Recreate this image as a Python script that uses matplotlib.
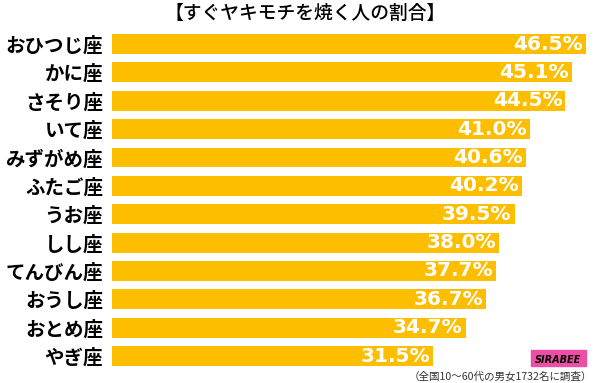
import matplotlib
matplotlib.use("Agg")
import matplotlib.pyplot as plt
from matplotlib.patches import Rectangle

plt.rcParams['font.family'] = ['Noto Sans CJK JP', 'DejaVu Sans']

# data
signs = ["おひつじ座", "かに座", "さそり座", "いて座", "みずがめ座", "ふたご座",
         "うお座", "しし座", "てんびん座", "おうし座", "おとめ座", "やぎ座"]
rates = [46.5, 45.1, 44.5, 41.0, 40.6, 40.2, 39.5, 38.0, 37.7, 36.7, 34.7, 31.5]
title = "【すぐヤキモチを焼く人の割合】"
note = "（全国10～60代の男女1732名に調査）"

bar_color = "#FDBE00"

fig = plt.figure(figsize=(6, 3.83), dpi=100)
ax = fig.add_axes([112 / 600, 0.0334, 478 / 600, 0.8886])

y = range(len(signs))
ax.barh(y, rates, height=0.7, color=bar_color)
ax.set_xlim(0, 478 / 10.19)
ax.set_ylim(len(signs) - 0.5, -0.5)

# value labels inside bar end
for i, v in enumerate(rates):
    ax.text(v - 0.3, i, f"{v:.1f}%", ha="right", va="center", color="white",
            fontsize=14.5, fontweight="bold", family="DejaVu Sans")

ax.set_yticks(list(y))
ax.set_yticklabels(signs, fontsize=14, fontweight="bold")
ax.tick_params(axis="y", length=0, pad=6.5)
ax.set_xticks([])
for s in ax.spines.values():
    s.set_visible(False)

fig.text(305 / 600, 1 - 13 / 383, title, ha="center", va="center", fontsize=13.5,
         fontweight="medium")
fig.text(592 / 600, 1 - 377 / 383, note, ha="right", va="center", fontsize=7.6,
         color="#333333")

# logo box
fig.patches.append(Rectangle((531 / 600, 1 - 366 / 383), 55 / 600, 16 / 383,
                             transform=fig.transFigure, color="#EE4FA6"))
fig.text(558 / 600, 1 - 360 / 383, "SIRABEE", ha="center", va="center",
         fontsize=7, fontweight="bold", style="italic", family="DejaVu Sans")

fig.savefig("out.png", dpi=100)
